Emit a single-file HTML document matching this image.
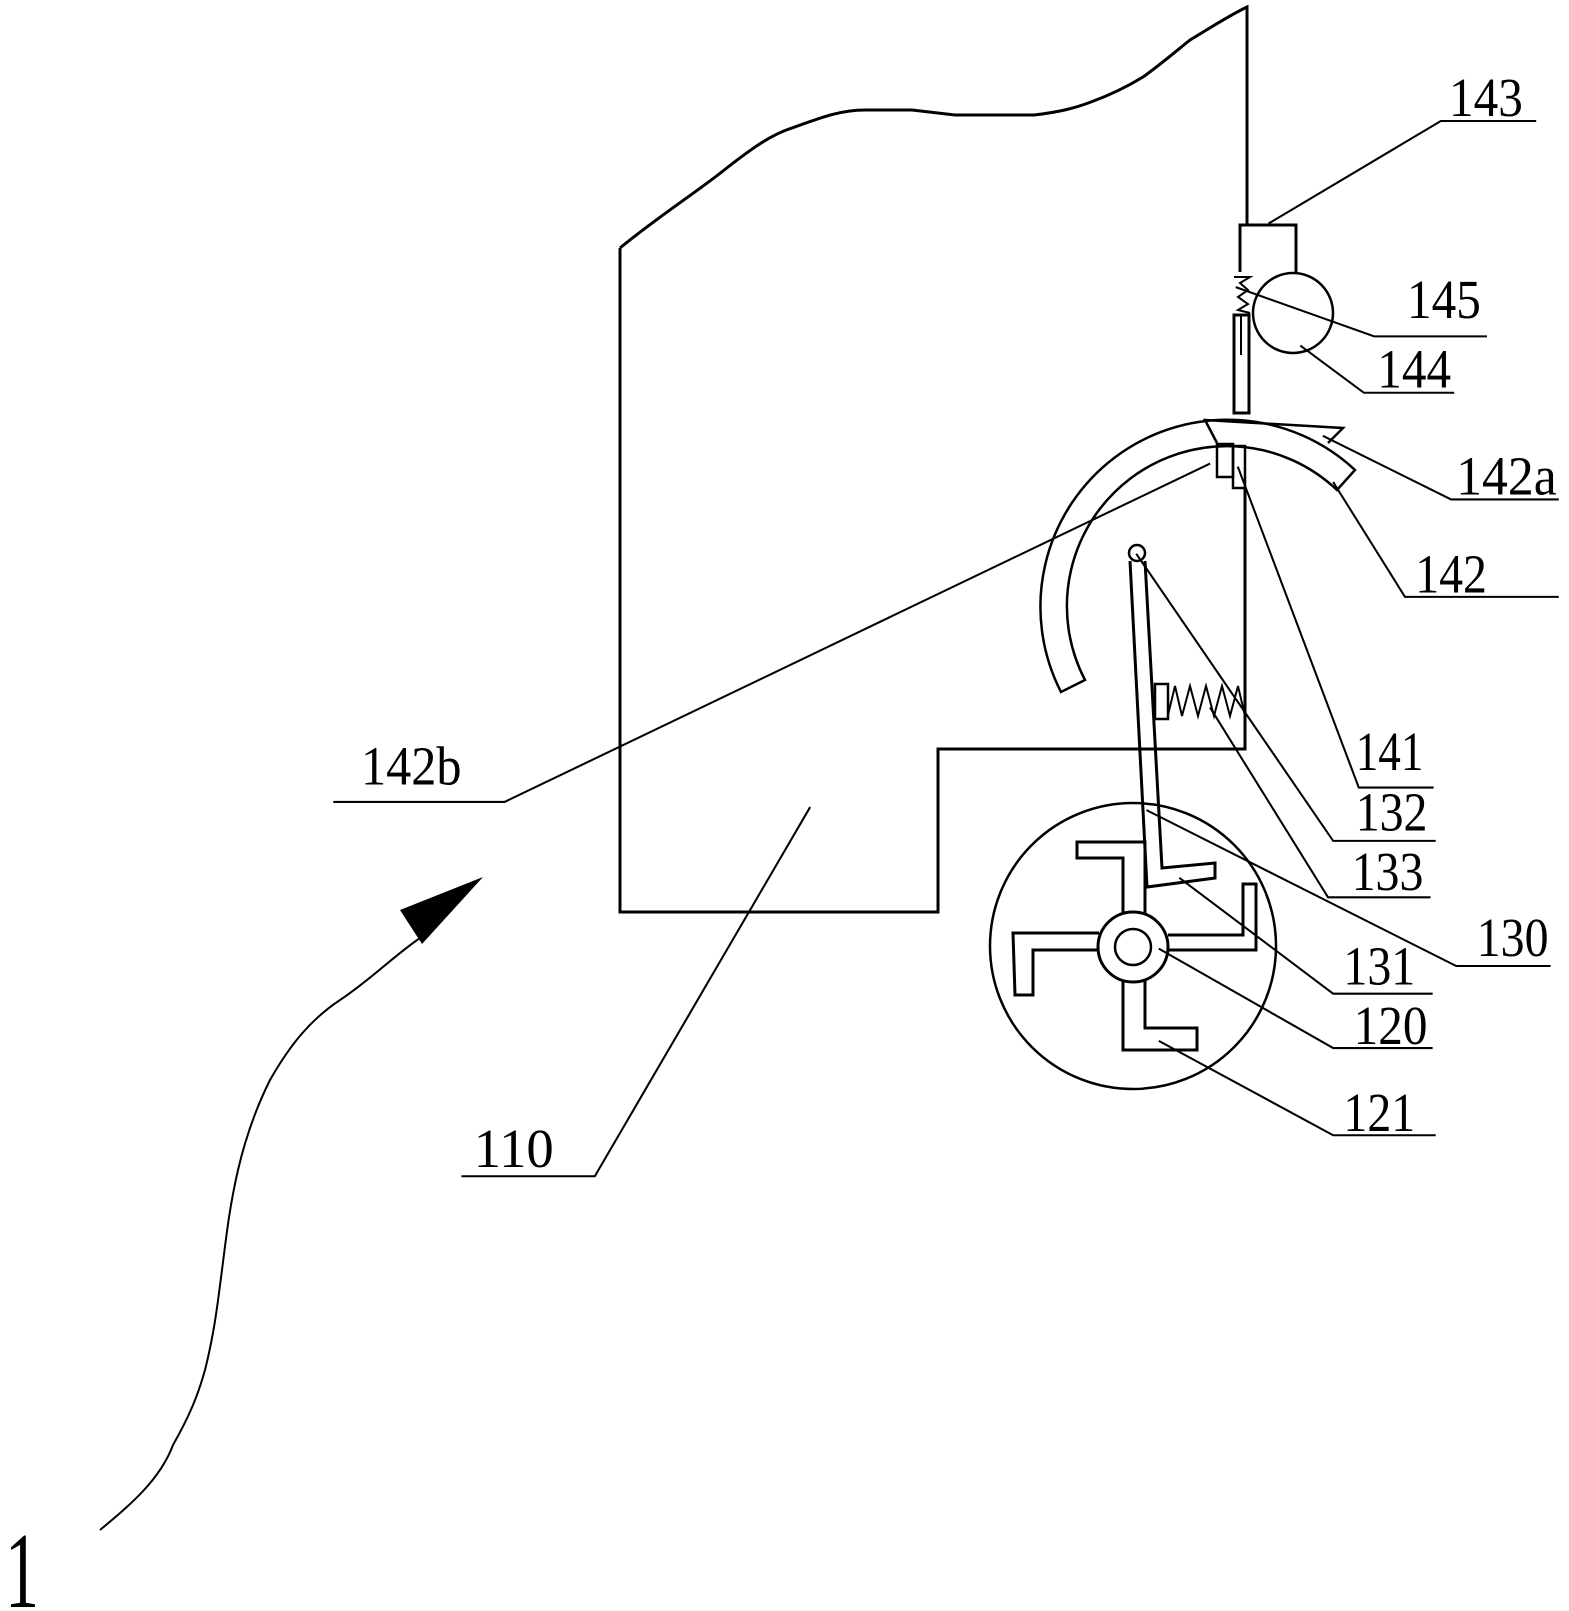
<!DOCTYPE html>
<html><head><meta charset="utf-8"><style>
html,body{margin:0;padding:0;background:#fff;}
svg{display:block;}
text{font-family:"Liberation Serif",serif;font-size:54px;fill:#000;}
</style></head><body>
<svg width="1569" height="1611" viewBox="0 0 1569 1611" xmlns="http://www.w3.org/2000/svg">
<g fill="none" stroke="#000" stroke-width="3" stroke-linejoin="miter">
<!-- main body -->
<path d="M620,248 C660,215 700,190 728,167 C750,150 770,135 792,128 C820,118 840,110 865,110 L912,110 L955,115 L1034,115 C1060,112 1075,108 1091,102 C1110,95 1125,88 1143,77 C1160,65 1175,52 1190,40 C1210,28 1230,15 1247,7 L1247,225"/>
<path d="M620,248 L620,912 L938,912 L938,749 L1245,749 L1245,488"/>
<!-- 143 box -->
<path d="M1240,272 L1240,225 L1296,225 L1296,272"/>
<!-- spring 145 -->
<path stroke-width="2" d="M1234,277 L1250,277 L1240,283 L1248,290 L1238,297 L1248,304 L1238,310 L1250,313"/>
<!-- slot -->
<rect x="1234" y="315" width="15" height="98"/>
<line x1="1241" y1="315" x2="1241" y2="355" stroke-width="2"/>
<!-- circle 144 -->
<circle cx="1293" cy="313" r="40" stroke-width="2.5"/>
<!-- arc 142 -->
<path stroke-width="2.5" d="M1061,692 A187,187 0 0 1 1355,470 L1337,490 A160,160 0 0 0 1085,680 Z"/>
<path stroke-width="2.5" d="M1217,443 L1205,420 L1343,428 L1328,443"/>
<!-- small rects 141 -->
<rect x="1217" y="444" width="16" height="33" stroke-width="2.5"/>
<rect x="1233" y="446" width="12" height="42" stroke-width="2.5"/>
<!-- lever -->
<path d="M1130,561 L1147,887 L1215,878 L1215,863 L1162,868 L1145,561"/>
<circle cx="1137" cy="553" r="8" stroke-width="2.5"/>
<!-- spring 133 -->
<rect x="1155" y="684" width="13" height="35" stroke-width="2.5"/>
<path stroke-width="2" d="M1168,715 L1175,686 L1182,716 L1190,686 L1198,716 L1206,686 L1214,716 L1222,686 L1230,716 L1238,686 L1245,716"/>
<!-- wheel -->
<circle cx="1133" cy="946" r="143" stroke-width="2.5"/>
<circle cx="1133" cy="947" r="35"/>
<circle cx="1133" cy="947" r="18" stroke-width="2.5"/>
<path d="M1123,913 L1123,858 L1077,858 L1077,842 L1145,842 L1145,913"/>
<path d="M1099,933 L1013,933 L1015,995 L1033,995 L1033,950 L1099,950"/>
<path d="M1123,981 L1123,1050 L1197,1050 L1197,1028 L1145,1028 L1145,981"/>
<path d="M1168,935 L1243,935 L1243,884 L1256,884 L1256,950 L1168,950"/>
</g>
<!-- "1" leader and arrow -->
<path d="M100,1530 C130,1505 160,1480 173,1445 C190,1415 198,1395 205,1370 C215,1330 218,1300 222,1270 C227,1230 230,1205 238,1170 C245,1140 255,1110 270,1080 C290,1045 310,1020 340,1000 C370,980 395,955 420,938" fill="none" stroke="#000" stroke-width="2"/>
<polygon points="483,877 400,910 422,944" fill="#000"/>
<text x="5" y="1607" style="font-size:108px" textLength="34" lengthAdjust="spacingAndGlyphs">1</text>

<g transform="scale(1.0255)" stroke="#000" stroke-width="2" fill="none">
<!-- leaders + underlines (perceived coords) -->
<path d="M1237,218 L1405,118 L1498,118"/>
<path d="M1205,280 L1340,328 L1450,328"/>
<path d="M1268,337 L1330,383 L1418,383"/>
<path d="M1290,425 L1415,487 L1520,487"/>
<path d="M1300,470 L1370,582 L1520,582"/>
<path d="M1180,452 L492,782 L325,782"/>
<path d="M1207,455 L1325,768 L1398,768"/>
<path d="M1108,540 L1300,820 L1400,820"/>
<path d="M1180,690 L1295,875 L1395,875"/>
<path d="M1118,790 L1420,942 L1512,942"/>
<path d="M1150,856 L1300,969 L1397,969"/>
<path d="M1130,925 L1300,1022 L1397,1022"/>
<path d="M1130,1015 L1300,1107 L1400,1107"/>
<path d="M790,787 L580,1147 L450,1147"/>
</g>
<g transform="scale(1.0255)">
<text x="1413" y="113" textLength="72" lengthAdjust="spacingAndGlyphs">143</text>
<text x="1372" y="310" textLength="72" lengthAdjust="spacingAndGlyphs">145</text>
<text x="1343" y="378" textLength="72" lengthAdjust="spacingAndGlyphs">144</text>
<text x="1420" y="482" textLength="98" lengthAdjust="spacingAndGlyphs">142a</text>
<text x="1380" y="578" textLength="70" lengthAdjust="spacingAndGlyphs">142</text>
<text x="352" y="765" textLength="98" lengthAdjust="spacingAndGlyphs">142b</text>
<text x="1322" y="751" textLength="66" lengthAdjust="spacingAndGlyphs">141</text>
<text x="1322" y="810" textLength="70" lengthAdjust="spacingAndGlyphs">132</text>
<text x="1318" y="868" textLength="70" lengthAdjust="spacingAndGlyphs">133</text>
<text x="1440" y="932" textLength="70" lengthAdjust="spacingAndGlyphs">130</text>
<text x="1310" y="960" textLength="70" lengthAdjust="spacingAndGlyphs">131</text>
<text x="1320" y="1018" textLength="72" lengthAdjust="spacingAndGlyphs">120</text>
<text x="1310" y="1103" textLength="70" lengthAdjust="spacingAndGlyphs">121</text>
<text x="462" y="1138" textLength="78" lengthAdjust="spacingAndGlyphs">110</text>
</g>
</svg>
</body></html>
